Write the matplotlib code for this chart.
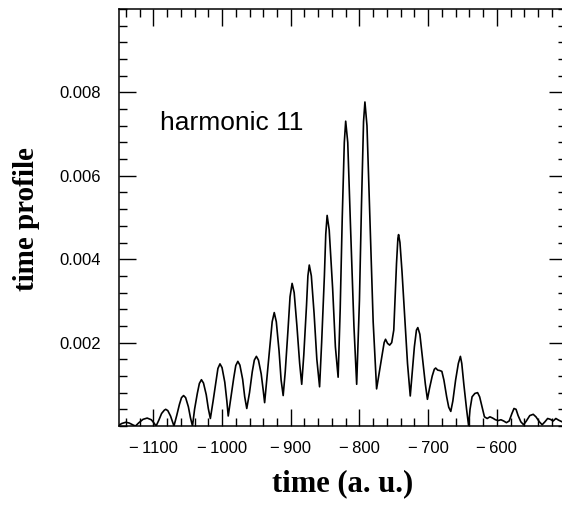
"""
Time profile of harmonic 11 (reference figure recreation).
"""
import matplotlib
matplotlib.use("Agg")
import matplotlib.pyplot as plt
import matplotlib.ticker as mticker

# ── Data ──────────────────────────────────────────────────────────────────────
TIME = [
    -1150, -1146, -1140, -1135, -1129, -1126,
    -1121, -1115, -1109, -1103, -1099, -1096,
    -1092, -1088, -1084, -1082, -1079, -1075, -1072, -1070,
    -1066, -1062, -1059, -1056, -1053, -1049, -1046, -1043,
    -1040, -1036, -1033, -1030, -1027, -1023, -1020, -1017,
    -1013, -1009, -1006, -1003, -1000, -996, -993, -991,
    -987, -983, -980, -977, -974, -970, -967, -964,
    -960, -956, -953, -950, -947, -943, -940, -938,
    -935, -931, -927, -924, -921, -917, -914, -911,
    -908, -904, -901, -898, -895, -891, -887, -884,
    -881, -877, -875, -873, -870, -866, -862, -858,
    -855, -851, -849, -847, -844, -839, -835, -831,
    -828, -825, -822, -820, -817, -813, -808, -804,
    -800, -797, -794, -792, -789, -785, -780, -775,
    -772, -768, -764, -762, -759, -756, -753, -750, -748, -746, -744, -743,
    -741, -738, -734, -730, -726,
    -723, -720, -717, -715, -712, -708, -704, -701,
    -698, -694, -691, -689, -686, -683, -680, -677, -673, -670, -667,
    -664, -660, -656, -653, -651, -648, -644, -641,
    -639, -636, -632, -628, -625, -621, -618,
    -614, -610, -606, -602, -598, -594, -590, -586, -582, -578,
    -575, -572, -569, -565, -561, -557, -552, -547, -543, -538,
    -534, -530, -526, -522, -518, -514, -510, -505, -500,
]
PROFILE = [
    0.00002, 0.00006, 0.00009, 0.00007, 0.00002, 0.0,
    0.00008, 0.00016, 0.00019, 0.00015, 0.00007, 0.0,
    0.00014, 0.00030, 0.00038, 0.00040, 0.00037, 0.00024, 0.00010, 0.0,
    0.00025, 0.00052, 0.00068, 0.00073, 0.00068, 0.00046, 0.00020, 0.0,
    0.00040, 0.00078, 0.00102, 0.00111, 0.00103, 0.00075, 0.00042, 0.00018,
    0.00060, 0.00105, 0.00138, 0.00149, 0.00140, 0.00105, 0.00060, 0.00024,
    0.00070, 0.00115, 0.00145, 0.00155, 0.00146, 0.00112, 0.00070, 0.00042,
    0.00080, 0.00130, 0.00158, 0.00167, 0.00158, 0.00125, 0.00085, 0.00056,
    0.00110, 0.00180, 0.00250, 0.00272, 0.00250, 0.00180, 0.00110, 0.00073,
    0.00130, 0.00230, 0.00310, 0.00342, 0.00320, 0.00240, 0.00150, 0.00100,
    0.00170, 0.00290, 0.00360, 0.00386, 0.00360, 0.00270, 0.00160, 0.00094,
    0.00200, 0.00360, 0.00460, 0.00505, 0.00470, 0.00330, 0.00190, 0.00117,
    0.00280, 0.00500, 0.00680, 0.00731, 0.00680, 0.00480, 0.00240, 0.00100,
    0.00300, 0.00530, 0.00730, 0.00777, 0.00720, 0.00510, 0.00250, 0.00089,
    0.00120, 0.00160, 0.00200, 0.00208, 0.00198, 0.00194, 0.00200, 0.00230, 0.00310, 0.00390, 0.00450, 0.00459,
    0.00440, 0.00370, 0.00260, 0.00150, 0.00072,
    0.00130, 0.00190, 0.00230, 0.00236, 0.00220, 0.00160, 0.00100, 0.00064,
    0.00090, 0.00120, 0.00136, 0.00139, 0.00134, 0.00133, 0.00131, 0.00110, 0.00070, 0.00045, 0.00035,
    0.00060, 0.00110, 0.00150, 0.00167, 0.00150, 0.00100, 0.00040, 0.0,
    0.00040, 0.00070, 0.00078, 0.00080, 0.00070, 0.00042, 0.00022,
    0.00018, 0.00022, 0.00019, 0.00015, 0.00013, 0.00015, 0.00012, 0.00008, 0.00012, 0.00030,
    0.00042, 0.00040, 0.00025, 0.00010, 0.00003, 0.00012, 0.00025, 0.00028, 0.00022, 0.00010,
    0.00003, 0.00010, 0.00018, 0.00016, 0.00012, 0.00018, 0.00014, 0.00010, 0.00012,
]

X_TICKS = [-1100, -1000, -900, -800, -700, -600]
X_TICK_LABELS = ["\u2212\u20091100", "\u2212\u20091000", "\u2212\u2009900",
                 "\u2212\u2009800", "\u2212\u2009700", "\u2212\u2009600"]
Y_TICKS = [0.002, 0.004, 0.006, 0.008]
Y_TICK_LABELS = ["0.002", "0.004", "0.006", "0.008"]

SANS = "Liberation Sans"
SERIF = "Liberation Serif"

# ── Figure ────────────────────────────────────────────────────────────────────
fig = plt.figure(figsize=(5.62, 5.08), dpi=100)
# right spine sits just past the image edge, like the scanned original
ax = fig.add_axes([119 / 562, 1 - 426 / 508, 446.5 / 562, 417 / 508])

ax.plot(TIME, PROFILE, color="black", linewidth=1.2)

ax.set_xlim(-1150, -500)
ax.set_ylim(0, 0.01)

ax.set_xticks(X_TICKS)
ax.set_xticklabels(X_TICK_LABELS)
ax.xaxis.set_minor_locator(mticker.MultipleLocator(20))
ax.set_yticks(Y_TICKS)
ax.set_yticklabels(Y_TICK_LABELS)
ax.yaxis.set_minor_locator(mticker.MultipleLocator(0.0004))

ax.tick_params(which="both", direction="in", top=True, right=True, width=1.0, color="black")
ax.tick_params(which="major", length=12)
ax.tick_params(which="minor", length=5.5)
ax.tick_params(axis="x", which="major", pad=10.5, labelsize=12)
ax.tick_params(axis="y", which="major", pad=13, labelsize=12)
for lbl in ax.get_xticklabels() + ax.get_yticklabels():
    lbl.set_fontfamily(SANS)

for sp in ax.spines.values():
    sp.set_linewidth(1.1)

ax.text(-1090, 0.0071, "harmonic 11", fontsize=19, family=SANS, color="black")

fig.text(27 / 562, 1 - 219 / 508, "time profile", rotation=90, fontsize=21,
         family=SERIF, fontweight="bold", ha="center", va="center")
fig.text(343 / 562, 1 - 484 / 508, "time (a. u.)", fontsize=22,
         family=SERIF, fontweight="bold", ha="center", va="center")

fig.savefig("out.png", dpi=100)
print("Saved: out.png")
